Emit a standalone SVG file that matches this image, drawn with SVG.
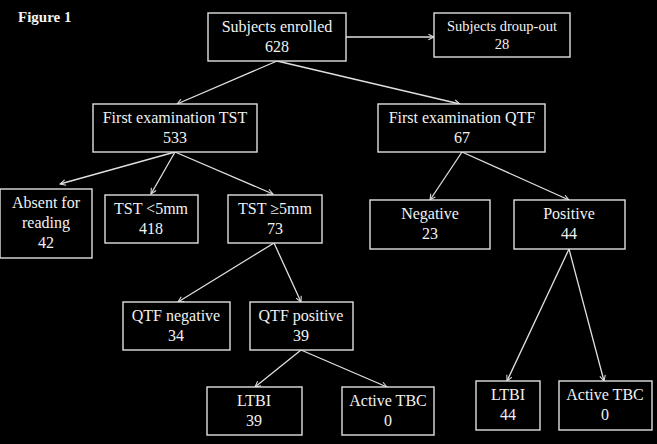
<svg xmlns="http://www.w3.org/2000/svg" width="657" height="444" viewBox="0 0 657 444">
<style>
.bx{fill:#000;stroke:#e0e0e0;stroke-width:1.4}
.t{font-size:16px;fill:#f2f2f2;text-anchor:middle}
.c{stroke:#e0e0e0;stroke-width:1.3;fill:none;marker-end:url(#ah)}
</style>
<defs>
<marker id="ah" viewBox="0 0 10 10" refX="9" refY="5" markerWidth="7" markerHeight="7" orient="auto" markerUnits="userSpaceOnUse">
<path d="M1,1 L9,5 L1,9" fill="none" stroke="#e0e0e0" stroke-width="1.5"/>
</marker>
</defs>
<rect width="657" height="444" fill="#000"/>
<g font-family="Liberation Serif, DejaVu Serif, serif">
<text x="18" y="22" font-weight="bold" font-size="15" fill="#f2f2f2">Figure 1</text>
<g id="connectors">
<line class="c" x1="346" y1="37" x2="434" y2="37"/>
<line class="c" x1="277" y1="61" x2="177" y2="104"/>
<line class="c" x1="277" y1="61" x2="460" y2="104"/>
<line class="c" x1="175" y1="152" x2="60" y2="184"/>
<line class="c" x1="175" y1="152" x2="151" y2="194"/>
<line class="c" x1="175" y1="152" x2="273" y2="194"/>
<line class="c" x1="462" y1="152" x2="430" y2="200"/>
<line class="c" x1="462" y1="152" x2="569" y2="200"/>
<line class="c" x1="274" y1="243" x2="178" y2="302"/>
<line class="c" x1="274" y1="243" x2="301" y2="302"/>
<line class="c" x1="301" y1="350" x2="255" y2="387"/>
<line class="c" x1="301" y1="350" x2="387" y2="387"/>
<line class="c" x1="569" y1="249" x2="507" y2="381"/>
<line class="c" x1="569" y1="249" x2="604" y2="381"/>
</g>
<g id="enrolled"><rect class="bx" x="208" y="13" width="138" height="48"/><text class="t" x="277" y="32">Subjects enrolled</text><text class="t" x="277" y="52">628</text></g>
<g id="dropout"><rect class="bx" x="434" y="13" width="136" height="44"/><text class="t" x="502" y="31" style="font-size:14.5px">Subjects droup-out</text><text class="t" x="502" y="49" style="font-size:14.5px">28</text></g>
<g id="tst"><rect class="bx" x="93" y="104" width="164" height="48"/><text class="t" x="175" y="123">First examination TST</text><text class="t" x="175" y="143">533</text></g>
<g id="qtf"><rect class="bx" x="378" y="104" width="167" height="48"/><text class="t" x="462" y="123">First examination QTF</text><text class="t" x="462" y="143">67</text></g>
<g id="absent"><rect class="bx" x="0" y="189" width="92" height="69"/><text class="t" x="46" y="208">Absent for</text><text class="t" x="46" y="228">reading</text><text class="t" x="46" y="248">42</text></g>
<g id="tstlt5"><rect class="bx" x="105" y="195" width="93" height="48"/><text class="t" x="151" y="214">TST &lt;5mm</text><text class="t" x="151" y="234">418</text></g>
<g id="tstge5"><rect class="bx" x="228" y="195" width="94" height="48"/><text class="t" x="275" y="214">TST ≥5mm</text><text class="t" x="275" y="234">73</text></g>
<g id="negative"><rect class="bx" x="370" y="200" width="120" height="49"/><text class="t" x="430" y="219">Negative</text><text class="t" x="430" y="239">23</text></g>
<g id="positive"><rect class="bx" x="514" y="200" width="111" height="49"/><text class="t" x="569" y="219">Positive</text><text class="t" x="569" y="239">44</text></g>
<g id="qtfneg"><rect class="bx" x="123" y="302" width="107" height="48"/><text class="t" x="176" y="321">QTF negative</text><text class="t" x="176" y="341">34</text></g>
<g id="qtfpos"><rect class="bx" x="250" y="302" width="103" height="48"/><text class="t" x="301" y="321">QTF positive</text><text class="t" x="301" y="341">39</text></g>
<g id="ltbi1"><rect class="bx" x="207" y="387" width="95" height="48"/><text class="t" x="254" y="406">LTBI</text><text class="t" x="254" y="426">39</text></g>
<g id="active1"><rect class="bx" x="342" y="387" width="92" height="48"/><text class="t" x="388" y="406">Active TBC</text><text class="t" x="388" y="426">0</text></g>
<g id="ltbi2"><rect class="bx" x="476" y="381" width="64" height="49"/><text class="t" x="508" y="400">LTBI</text><text class="t" x="508" y="420">44</text></g>
<g id="active2"><rect class="bx" x="559" y="381" width="93" height="49"/><text class="t" x="605" y="400">Active TBC</text><text class="t" x="605" y="420">0</text></g>
</g>
</svg>
